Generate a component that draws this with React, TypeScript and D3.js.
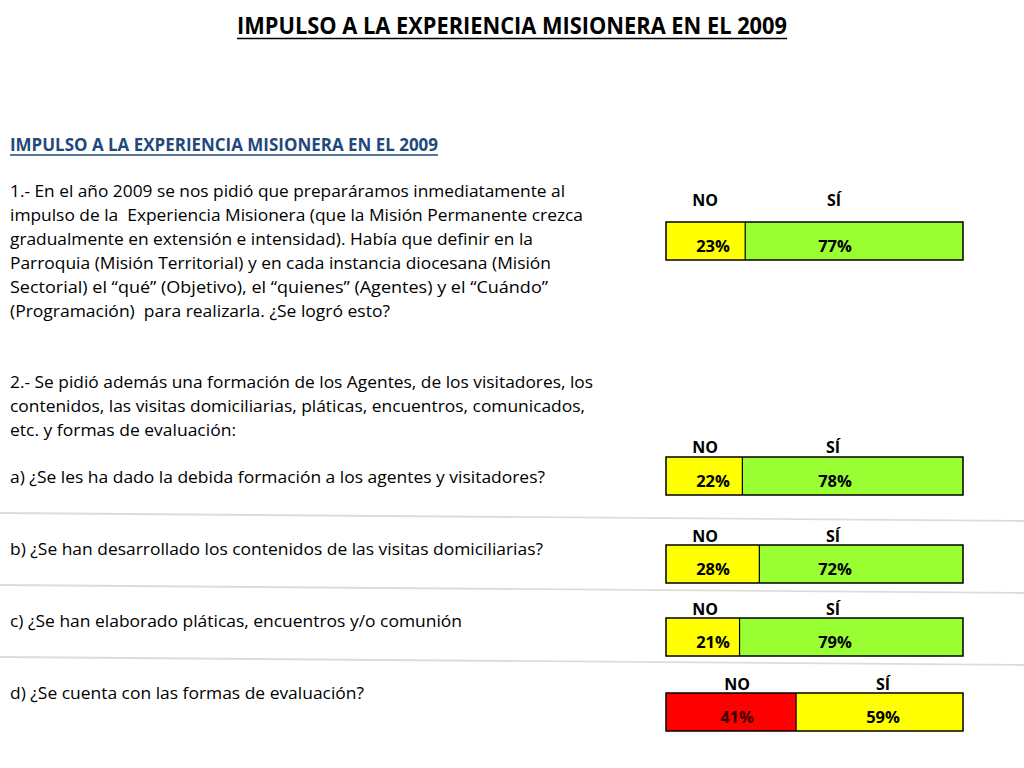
import React from "react";
import * as d3 from "d3";

// ---------- data ----------
const title = "IMPULSO A LA EXPERIENCIA MISIONERA EN EL 2009";
const questions = ["1", "a", "b", "c", "d"];
const noValues = [23, 22, 28, 21, 41];
const siValues = [77, 78, 72, 79, 59];
const headerLabels = ["NO", "SÍ"];

const para1 = [
  "1.- En el año 2009 se nos pidió que preparáramos inmediatamente al",
  "impulso de la  Experiencia Misionera (que la Misión Permanente crezca",
  "gradualmente en extensión e intensidad). Había que definir en la",
  "Parroquia (Misión Territorial) y en cada instancia diocesana (Misión",
  "Sectorial) el “qué” (Objetivo), el “quienes” (Agentes) y el “Cuándo”",
  "(Programación)  para realizarla. ¿Se logró esto?",
];
const para2 = [
  "2.- Se pidió además una formación de los Agentes, de los visitadores, los",
  "contenidos, las visitas domiciliarias, pláticas, encuentros, comunicados,",
  "etc. y formas de evaluación:",
];
const subQuestions = [
  "a) ¿Se les ha dado la debida formación a los agentes y visitadores?",
  "b) ¿Se han desarrollado los contenidos de las visitas domiciliarias?",
  "c) ¿Se han elaborado pláticas, encuentros y/o comunión",
  "d) ¿Se cuenta con las formas de evaluación?",
];

// ---------- layout / style ----------
const para1Widths = [555, 573, 523, 541, 538, 380];
const para2Widths = [583, 575, 226];
const subWidths = [535, 533, 452, 354];
const subBaselines = [483, 555, 627, 699];

const barTop = [222, 457, 545, 618, 693];
const headerBase = [206, 453, 542, 615, 690];
const noHeadX = [705, 705, 705, 705, 737];
const siHeadX = [834, 833, 833, 833, 883];
const noPctX = [713, 713, 713, 713, 737];
const siPctX = [835, 835, 835, 835, 883];
const noFill = ["#FFFF00", "#FFFF00", "#FFFF00", "#FFFF00", "#FF0000"];
const siFill = ["#99FF33", "#99FF33", "#99FF33", "#99FF33", "#FFFF00"];

const separators = [
  [513, 521],
  [585, 593],
  [657, 665],
];

const FONT = "'Open Sans', 'Noto Sans', sans-serif";

export default function App() {
  const barX0 = 666;
  const barX1 = 963;
  const barH = 38;
  // NO cell has a small minimum padding, then grows with its share
  const x = d3.scaleLinear().domain([-5, 100]).range([barX0, barX1]);

  const bodyText = (t: string, key: string, y: number, w: number) => (
    <text
      key={key}
      x={10}
      y={y}
      fontFamily={FONT}
      fontSize={16.5}
      textLength={w}
      lengthAdjust="spacingAndGlyphs"
      fill="#000"
      style={{ whiteSpace: "pre" }}
      xmlSpace="preserve"
    >
      {t}
    </text>
  );

  return (
    <svg
      width={1024}
      height={768}
      viewBox="0 0 1024 768"
      style={{ position: "absolute", left: 0, top: 0, background: "#fff" }}
    >
      <rect width={1024} height={768} fill="#fff" />
      {/* title */}
      <text
        x={237}
        y={34}
        fontFamily={FONT}
        fontWeight={700}
        fontSize={23.5}
        textLength={550}
        lengthAdjust="spacingAndGlyphs"
        fill="#000"
      >
        {title}
      </text>
      <line x1={237} x2={787} y1={38.5} y2={38.5} stroke="#000" strokeWidth={1.6} />

      {/* subtitle */}
      <text
        x={10}
        y={151}
        fontFamily={FONT}
        fontWeight={700}
        fontSize={17}
        textLength={428}
        lengthAdjust="spacingAndGlyphs"
        fill="#1F497D"
      >
        {title}
      </text>
      <line x1={10} x2={438} y1={155} y2={155} stroke="#1F497D" strokeWidth={1.3} />

      {para1.map((t, i) => bodyText(t, "p1" + i, 197 + i * 24, para1Widths[i]))}
      {para2.map((t, i) => bodyText(t, "p2" + i, 388 + i * 24, para2Widths[i]))}
      {subQuestions.map((t, i) => bodyText(t, "sq" + i, subBaselines[i], subWidths[i]))}

      {/* separators */}
      {separators.map((s, i) => (
        <line
          key={"sep" + i}
          x1={0}
          x2={1024}
          y1={s[0]}
          y2={s[1]}
          stroke="#DDDDD6"
          strokeWidth={1.8}
        />
      ))}

      {/* bars */}
      {questions.map((q, i) => {
        const top = barTop[i];
        const split = x(noValues[i]);
        const end = x(noValues[i] + siValues[i]);
        return (
          <g key={"bar" + q}>
            <text
              x={noHeadX[i]}
              y={headerBase[i]}
              textAnchor="middle"
              fontFamily={FONT}
              fontWeight={700}
              fontSize={16}
              fill="#000"
            >
              {headerLabels[0]}
            </text>
            <text
              x={siHeadX[i]}
              y={headerBase[i]}
              textAnchor="middle"
              fontFamily={FONT}
              fontWeight={700}
              fontSize={16}
              fill="#000"
            >
              {headerLabels[1]}
            </text>
            <rect x={barX0} y={top} width={split - barX0} height={barH} fill={noFill[i]} />
            <rect x={split} y={top} width={end - split} height={barH} fill={siFill[i]} />
            <rect
              x={barX0}
              y={top}
              width={end - barX0}
              height={barH}
              fill="none"
              stroke="#000"
              strokeWidth={1.5}
            />
            <line x1={split} x2={split} y1={top} y2={top + barH} stroke="#000" strokeWidth={1.2} />
            <text
              x={noPctX[i]}
              y={top + barH - 8.5}
              textAnchor="middle"
              fontFamily={FONT}
              fontWeight={700}
              fontSize={16.5}
              fill={i === 4 ? "#3A0000" : "#000"}
            >
              {noValues[i] + "%"}
            </text>
            <text
              x={siPctX[i]}
              y={top + barH - 8.5}
              textAnchor="middle"
              fontFamily={FONT}
              fontWeight={700}
              fontSize={16.5}
              fill="#000"
            >
              {siValues[i] + "%"}
            </text>
          </g>
        );
      })}
    </svg>
  );
}
